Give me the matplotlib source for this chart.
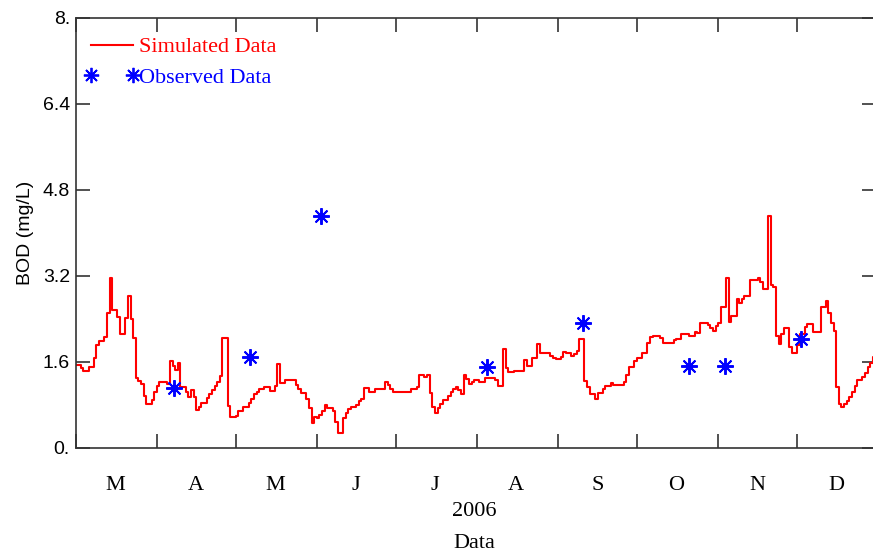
import numpy as np
import pandas as pd
import matplotlib
matplotlib.use('Agg')
import matplotlib.pyplot as plt
import matplotlib.dates as mdates
from matplotlib.lines import Line2D

start = pd.Timestamp('2006-03-01')

# Simulated BOD: day offset from Mar 1 where the value changes, and the value (mg/L)
sim_day = [0, 2, 3, 5, 7, 8, 9, 11, 12, 13, 14, 16, 17, 19, 20, 21, 22, 23, 24, 25,
           26, 27, 29, 30, 31, 32, 35, 36, 37, 38, 39, 40, 42, 43, 44, 45, 46, 47, 48, 50,
           51, 52, 53, 54, 55, 56, 58, 59, 61, 62, 64, 66, 67, 68, 69, 70, 72, 74, 76, 77,
           78, 80, 84, 85, 86, 88, 89, 90, 91, 92, 93, 94, 95, 96, 98, 99, 100, 102, 103, 104,
           105, 107, 108, 109, 110, 112, 114, 118, 119, 120, 121, 128, 130, 131, 133, 134, 135, 136, 137, 138,
           139, 140, 142, 143, 144, 145, 146, 147, 148, 149, 150, 151, 152, 154, 156, 160, 161, 163, 164, 165,
           167, 169, 171, 172, 174, 176, 177, 179, 181, 182, 183, 185, 186, 187, 189, 190, 191, 192, 194, 195,
           196, 198, 199, 201, 202, 204, 205, 209, 210, 211, 213, 214, 216, 218, 219, 220, 223, 224, 228, 229,
           231, 234, 236, 237, 238, 241, 242, 243, 244, 245, 246, 248, 249, 250, 252, 253, 254, 255, 257, 260,
           261, 262, 264, 265, 266, 267, 268, 269, 270, 272, 273, 275, 276, 278, 279, 281, 283, 284, 286, 287,
           288, 289, 290, 291, 292, 293, 294, 295, 296, 297, 298, 300, 301, 302, 303, 304, 306]
sim_val = [1.54, 1.49, 1.43, 1.51, 1.67, 1.92, 1.99, 2.06, 2.51, 3.16, 2.57, 2.44, 2.12, 2.42, 2.83, 2.40, 2.05, 1.30, 1.25, 1.19,
           0.97, 0.82, 0.89, 1.04, 1.15, 1.23, 1.19, 1.62, 1.53, 1.45, 1.58, 1.14, 1.04, 0.95, 1.08, 0.94, 0.71, 0.77, 0.84, 0.93,
           1.00, 1.07, 1.15, 1.23, 1.34, 2.05, 0.78, 0.57, 0.60, 0.68, 0.76, 0.84, 0.92, 1.00, 1.05, 1.09, 1.14, 1.06, 1.15, 1.56,
           1.21, 1.27, 1.17, 1.09, 1.02, 0.92, 0.74, 0.47, 0.58, 0.55, 0.61, 0.68, 0.80, 0.74, 0.69, 0.49, 0.27, 0.55, 0.65, 0.72,
           0.76, 0.80, 0.87, 0.92, 1.11, 1.05, 1.09, 1.23, 1.17, 1.09, 1.04, 1.09, 1.13, 1.36, 1.32, 1.36, 1.02, 0.77, 0.66, 0.74,
           0.82, 0.89, 0.97, 1.05, 1.09, 1.13, 1.08, 1.00, 1.36, 1.28, 1.20, 1.23, 1.27, 1.23, 1.31, 1.27, 1.15, 1.85, 1.48, 1.42,
           1.44, 1.43, 1.64, 1.53, 1.67, 1.93, 1.76, 1.77, 1.71, 1.67, 1.65, 1.70, 1.79, 1.76, 1.71, 1.75, 1.81, 2.02, 1.25, 1.13,
           1.00, 0.91, 1.02, 1.09, 1.15, 1.21, 1.18, 1.23, 1.36, 1.51, 1.61, 1.67, 1.76, 1.96, 2.06, 2.08, 2.04, 1.95, 2.01, 2.02,
           2.13, 2.08, 2.16, 2.14, 2.32, 2.29, 2.23, 2.18, 2.27, 2.33, 2.63, 3.16, 2.35, 2.46, 2.77, 2.70, 2.77, 2.83, 3.13, 3.16,
           3.08, 2.95, 4.32, 3.03, 3.00, 2.08, 1.93, 2.13, 2.23, 1.88, 1.77, 1.92, 2.13, 2.26, 2.31, 2.15, 2.16, 2.62, 2.74, 2.51,
           2.32, 2.18, 1.14, 0.82, 0.76, 0.82, 0.88, 0.95, 1.05, 1.15, 1.27, 1.32, 1.40, 1.50, 1.59, 1.69, 1.69]

# Observed BOD samples
obs_day = [37.4, 66.4, 93.5, 156.9, 193.5, 234.0, 247.7, 276.7]
obs_val = [1.12, 1.69, 4.32, 1.51, 2.33, 1.53, 1.53, 2.03]

yticks = [0, 1.6, 3.2, 4.8, 6.4, 8]
ytick_labels = ['0.', '1.6', '3.2', '4.8', '6.4', '8.']

sim_t = start + pd.to_timedelta(sim_day, unit='D')
obs_t = start + pd.to_timedelta(obs_day, unit='D')

serif = ['Liberation Serif', 'DejaVu Serif']
sans = 'Liberation Sans'
star = (8, 2, 0)

fig = plt.figure(figsize=(8.73, 5.54), dpi=100)
ax = fig.add_axes([75.5 / 873, 1 - 448 / 554, (875.6 - 75.5) / 873, (448 - 18) / 554])

ax.plot(sim_t, sim_val, color='red', lw=1.5, drawstyle='steps-post')
ax.plot(obs_t, obs_val, ls='none', marker=star, color='blue', ms=12, mew=1.4)

ax.set_xlim(start, pd.Timestamp('2006-12-31'))
ax.set_ylim(0, 8)
ax.set_yticks(yticks)
ax.set_yticklabels(ytick_labels, fontfamily=sans, fontsize=14)

ax.xaxis.set_major_locator(mdates.MonthLocator())
ax.xaxis.set_major_formatter(plt.NullFormatter())
ax.xaxis.set_minor_locator(mdates.MonthLocator(bymonthday=16))
ax.xaxis.set_minor_formatter(plt.FuncFormatter(lambda v, p: mdates.num2date(v).strftime('%b')[0]))
for lab in ax.get_xticklabels(minor=True):
    lab.set_fontfamily(serif)
    lab.set_fontsize(16)

ax.tick_params(axis='both', which='major', direction='in', length=10, width=1.2,
               top=True, right=True, color='#333333')
ax.tick_params(axis='x', which='minor', length=0, pad=20)
ax.tick_params(axis='y', pad=4)
for sp in ax.spines.values():
    sp.set_linewidth(1.2)
    sp.set_color('#333333')

ax.set_ylabel('BOD (mg/L)', fontfamily=sans, fontsize=14, labelpad=6)
fig.text((75.5 + 873) / 2 / 873, 1 - 512 / 554, '2006', fontfamily=serif, fontsize=16,
         ha='center', va='center')
fig.text((75.5 + 873) / 2 / 873, 1 - 543 / 554, 'Data', fontfamily=serif, fontsize=16,
         ha='center', va='center')

# two markers per legend entry: the second one sits right against the label
handles = [Line2D([], [], color='red', lw=1.5),
           Line2D([], [], ls='none', marker=star, color='blue', ms=11, mew=1.3)]
ax.legend(handles, ['Simulated Data', 'Observed Data'], loc='upper left',
          frameon=False, numpoints=2, handlelength=2.45, handletextpad=0.0,
          labelcolor=['red', 'blue'], prop={'family': serif, 'size': 16},
          bbox_to_anchor=(0.0116, 0.956), borderaxespad=0, borderpad=0,
          labelspacing=0.45)

fig.savefig('out.png', dpi=100)
